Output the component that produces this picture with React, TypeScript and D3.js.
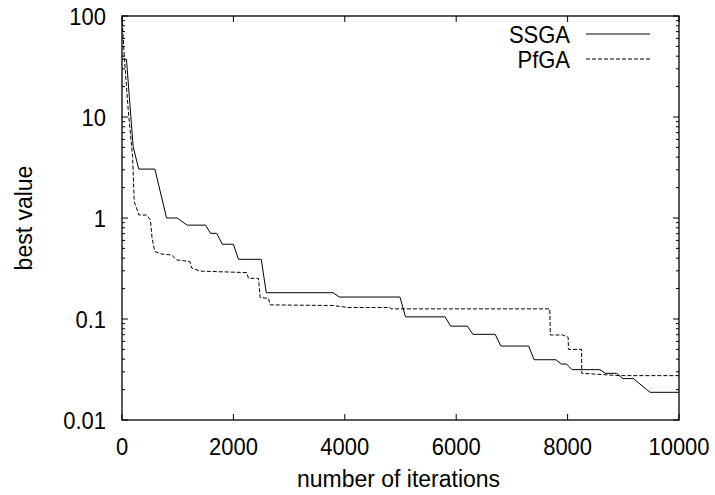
import React from 'react'
import * as d3 from 'd3'

const width = 715
const height = 495
const margin = {
  left: 122,
  top: 16,
  right: 36,
  bottom: 75,
}
const font = '"Liberation Sans", Arial, Helvetica, sans-serif'
const fontSize = 22
const stretch = 1.08 // the original glyphs are a little taller than wide

// SSGA: iteration / best value
const ssgaIter = [
  0, 80, 200, 300, 590, 800, 990, 1170, 1500, 1590, 1700, 1800, 2000, 2090,
  2500, 2590, 3790, 3900, 4990, 5090, 5800, 5900, 6200, 6300, 6700, 6800,
  7300, 7400, 7790, 7890, 7980, 8080, 8580, 8680, 8880, 8990, 9180, 9480,
  10000,
]
const ssgaBest = [
  37.3, 37.3, 5.1, 3.05, 3.05, 1.0, 1.0, 0.85, 0.85, 0.705, 0.705, 0.55, 0.55,
  0.39, 0.39, 0.182, 0.182, 0.165, 0.165, 0.105, 0.105, 0.085, 0.085, 0.0705,
  0.0705, 0.054, 0.054, 0.0395, 0.0395, 0.0358, 0.0358, 0.0315, 0.0315, 0.029,
  0.029, 0.0257, 0.0257, 0.0188, 0.0188,
]

// PfGA: iteration / best value
const pfgaIter = [
  0, 40, 110, 190, 220, 305, 440, 510, 540, 590, 710, 890, 980, 1220, 1250,
  1400, 2240, 2270, 2450, 2480, 2630, 2660, 3790, 4060, 4810, 4830, 7680, 7690,
  7910, 8010, 8015, 8250, 8255, 8940, 10000,
]
const pfgaBest = [
  100, 40, 12, 4.05, 1.45, 1.07, 1.07, 0.955, 0.63, 0.465, 0.44, 0.43, 0.385,
  0.37, 0.32, 0.298, 0.288, 0.253, 0.253, 0.163, 0.16, 0.138, 0.136, 0.13,
  0.13, 0.126, 0.126, 0.0695, 0.0695, 0.066, 0.05, 0.05, 0.029, 0.0275,
  0.0275,
]

const xTicks = [0, 2000, 4000, 6000, 8000, 10000]
const yTicks = [0.01, 0.1, 1, 10, 100]
const yTickLabels = ['0.01', '0.1', '1', '10', '100']
const seriesNames = ['SSGA', 'PfGA']

const plotW = width - margin.left - margin.right
const plotH = height - margin.top - margin.bottom

function Label({ x, y, anchor, size = fontSize, rotate = 0, dy, children }) {
  return (
    <g transform={`translate(${x},${y}) rotate(${rotate}) scale(1,${stretch})`}>
      <text
        x={0}
        y={0}
        dy={dy}
        textAnchor={anchor}
        fontSize={size}
        fontFamily={font}
      >
        {children}
      </text>
    </g>
  )
}

function App() {
  const xScale = d3.scaleLinear().domain([0, 10000]).range([0, plotW])
  const yScale = d3.scaleLog().domain([0.01, 100]).range([plotH, 0])

  const line = d3
    .line<[number, number]>()
    .x((d) => xScale(d[0]))
    .y((d) => yScale(d[1]))

  const ssga = ssgaIter.map((it, i) => [it, ssgaBest[i]] as [number, number])
  const pfga = pfgaIter.map((it, i) => [it, pfgaBest[i]] as [number, number])

  // minor log ticks 2..9 of every decade
  const minorTicks: number[] = []
  for (let dec = 0.01; dec < 100; dec *= 10) {
    for (let m = 2; m <= 9; m++) minorTicks.push(dec * m)
  }

  const xAxis = xTicks.map((t) => (
    <g key={'x' + t}>
      <line x1={xScale(t)} x2={xScale(t)} y1={plotH} y2={plotH - 6} stroke="black" />
      <line x1={xScale(t)} x2={xScale(t)} y1={0} y2={6} stroke="black" />
      <Label x={xScale(t)} y={plotH + 35} anchor="middle">
        {t}
      </Label>
    </g>
  ))

  const yAxis = yTicks.map((t, i) => (
    <g key={'y' + t}>
      <line x1={0} x2={6} y1={yScale(t)} y2={yScale(t)} stroke="black" />
      <line x1={plotW} x2={plotW - 6} y1={yScale(t)} y2={yScale(t)} stroke="black" />
      <Label x={-16} y={yScale(t)} dy="0.36em" anchor="end">
        {yTickLabels[i]}
      </Label>
    </g>
  ))

  const yMinor = minorTicks.map((t) => (
    <g key={'m' + t}>
      <line x1={0} x2={3} y1={yScale(t)} y2={yScale(t)} stroke="black" />
      <line x1={plotW} x2={plotW - 3} y1={yScale(t)} y2={yScale(t)} stroke="black" />
    </g>
  ))

  return (
    <svg
      width={width}
      height={height}
      style={{ position: 'absolute', left: 0, top: 0, background: 'white' }}
    >
      <defs>
        <clipPath id="plot-clip">
          <rect x={0} y={0} width={plotW} height={plotH} />
        </clipPath>
      </defs>
      <g transform={`translate(${margin.left},${margin.top})`}>
        {yMinor}
        {yAxis}
        {xAxis}
        <g clipPath="url(#plot-clip)">
          <path d={line(ssga) ?? ''} fill="none" stroke="black" strokeWidth={1} />
          <path
            d={line(pfga) ?? ''}
            fill="none"
            stroke="black"
            strokeWidth={1}
            strokeDasharray="4,2"
          />
        </g>
        <rect x={0} y={0} width={plotW} height={plotH} fill="none" stroke="black" strokeWidth={1.3} />

        {/* legend */}
        {seriesNames.map((name, i) => (
          <g key={name}>
            <Label x={448} y={18 + i * 25} dy="0.36em" anchor="end">
              {name}
            </Label>
            <line
              x1={464}
              x2={528}
              y1={18 + i * 25}
              y2={18 + i * 25}
              stroke="black"
              strokeDasharray={i === 1 ? '4,2' : undefined}
            />
          </g>
        ))}
      </g>

      <Label x={margin.left + plotW / 2 - 2} y={487} anchor="middle" size={23}>
        number of iterations
      </Label>
      <Label x={32} y={margin.top + plotH / 2} rotate={-90} anchor="middle" size={23}>
        best value
      </Label>
    </svg>
  )
}

export default App
